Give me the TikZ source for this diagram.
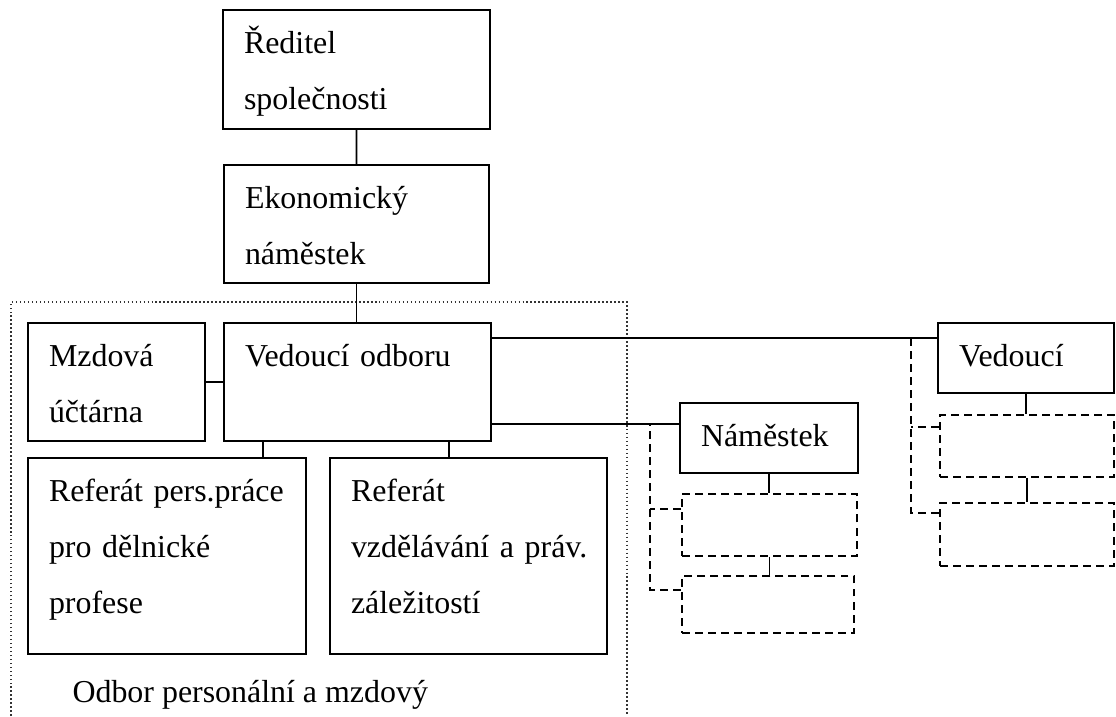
\documentclass[tikz,border=0pt]{standalone}
\usepackage{fontspec}
\setmainfont{Liberation Serif}

\begin{document}
\begin{tikzpicture}[x=0.376pt, y=-0.376pt,
    box/.style={draw, line width=0.75pt, anchor=north west, inner sep=0pt,
                align=left, text height=16.4pt, font=\fontsize{12pt}{21pt}\selectfont,
                execute at begin node={\leftskip=7.9pt}},
    emptybox/.style={draw, line width=0.75pt, dash pattern=on 3pt off 1.9pt, anchor=north west, inner sep=0pt},
    link/.style={line width=0.7pt},
    dashlink/.style={line width=0.75pt, dash pattern=on 3pt off 1.9pt},
    frame/.style={line width=0.6pt, dash pattern=on 0.6pt off 0.9pt, black!80}]

    \useasboundingbox (0,0) rectangle (1116,716);

    % Top management
    \node[box, text width=100.4pt, text depth=28.3pt] (red) at (222,9) {Ředitel\\společnosti};
    \node[box, text width=99.6pt, text depth=28pt] (eko) at (223,164) {Ekonomický\\náměstek};

    % Department in the dotted frame
    \draw[frame] (11,716) -- (11,302) -- (627,302) -- (627,716);
    \node[box, text width=66.6pt, text depth=28pt] (mzd) at (27,322) {Mzdová\\účtárna};
    \node[box, text width=100.4pt, text depth=28pt] (ved) at (223,322) {Vedoucí odboru};
    \node[box, text width=104.5pt, text depth=57.3pt] (refp) at (27,457) {Referát pers.práce\\pro dělnické\\profese};
    \node[box, text width=104.2pt, text depth=57.3pt] (refv) at (329,457) {Referát\\vzdělávání a práv.\\záležitostí};
    \node[font=\fontsize{12pt}{21pt}\selectfont, anchor=base west, inner sep=0pt] (odbor) at (72,702) {Odbor personální a mzdový};

    % Other units
    \node[box, text width=66.9pt, text depth=9.9pt] (nam) at (679,402) {Náměstek};
    \node[box, text width=66.2pt, text depth=9.9pt] (vedr) at (937,322) {Vedoucí};
    \node[emptybox, minimum width=65.8pt, minimum height=23.3pt] (d1) at (681,493) {};
    \node[emptybox, minimum width=64.7pt, minimum height=21.4pt] (d2) at (681,575) {};
    \node[emptybox, minimum width=65.4pt, minimum height=23.3pt] (d3) at (939,414) {};
    \node[emptybox, minimum width=65.4pt, minimum height=23.7pt] (d4) at (939,502) {};

    % Solid connectors
    \draw[link] (red) -- (eko);
    \draw[link] (eko.south) -- (eko.south |- ved.north);
    \draw[link] (mzd) -- (ved);
    \draw[link] (refp.north west) ++(236,0) coordinate (c1) -- (c1 |- ved.south);
    \draw[link] (refv.north west) ++(120,0) coordinate (c2) -- (c2 |- ved.south);
    \draw[link] (ved.north east) ++(0,16) coordinate (a1) -- (a1 -| vedr.west);
    \draw[link] (ved.south east) ++(0,-18) coordinate (a2) -- (a2 -| nam.west);
    \draw[link] (nam.south) -- (nam.south |- d1.north);
    \draw[link] (d1.south) -- (d1.south |- d2.north);
    \draw[link] (vedr.south) -- (vedr.south |- d3.north);
    \draw[link] (d3.south) -- (d3.south |- d4.north);

    % Dashed brackets
    \draw[dashlink] (d2.north west) ++(0,15) -- ++(-31,0) coordinate (t1) -- (t1 |- a2);
    \draw[dashlink] (d1.north west) ++(0,16) coordinate (s1) -- (s1 -| t1);
    \draw[dashlink] (d4.north west) ++(0,11) -- ++(-28,0) coordinate (t2) -- (t2 |- a1);
    \draw[dashlink] (d3.north west) ++(0,13) coordinate (s2) -- (s2 -| t2);
\end{tikzpicture}
\end{document}
